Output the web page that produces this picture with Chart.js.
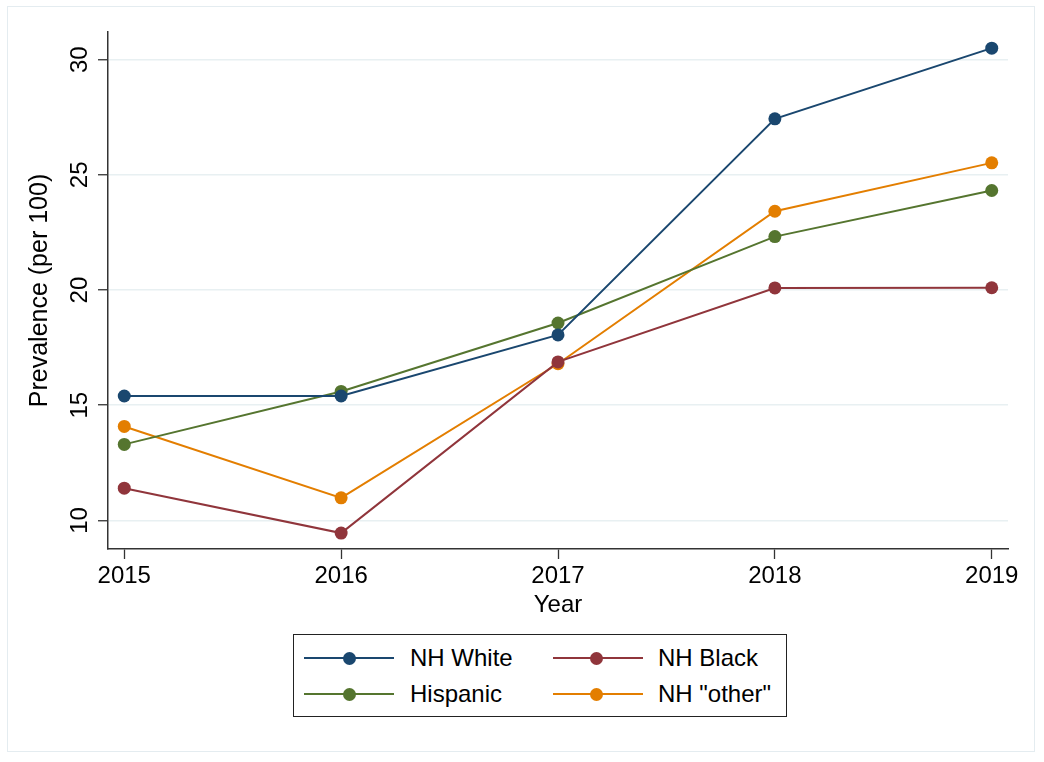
<!DOCTYPE html>
<html>
<head>
<meta charset="utf-8">
<script src="https://cdn.jsdelivr.net/npm/chart.js@4.4.1/dist/chart.umd.min.js"></script>
<style>
html,body{margin:0;padding:0;background:#fff;}
#wrap{position:relative;width:1044px;height:762px;overflow:hidden;}
#frame{position:absolute;left:7px;top:6px;width:1028px;height:746px;border:1px solid #e4ecf0;box-sizing:border-box;}
#c{position:absolute;left:0;top:0;}
#legend{position:absolute;left:293px;top:634px;width:494px;height:83px;border:1.5px solid #222;box-sizing:border-box;font-family:"Liberation Sans",Arial,Helvetica,sans-serif;font-size:24px;color:#000;background:#fff;}
.ln{position:absolute;height:2px;width:90px;}
.dot{position:absolute;width:13px;height:13px;border-radius:50%;}
.txt{position:absolute;white-space:nowrap;line-height:28px;}
</style>
</head>
<body>
<div id="wrap">
  <div id="frame"></div>
  <canvas id="c" width="1044" height="762"></canvas>
  <div id="legend"></div>
</div>
<script>
const years = [2015, 2016, 2017, 2018, 2019];
const yTicks = [10, 15, 20, 25, 30];
const seriesNames = ['NH White', 'NH Black', 'Hispanic', 'NH "other"'];
const nhWhite  = [15.4, 15.4, 18.05, 27.43, 30.5];
const nhBlack  = [11.4, 9.45, 16.88, 20.09, 20.1];
const hispanic = [13.3, 15.6, 18.57, 22.32, 24.32];
const nhOther  = [14.08, 10.98, 16.8, 23.42, 25.52];
const colors = ['#1a476f', '#90353b', '#55752f', '#e37e00'];

const seriesValues = [nhWhite, nhBlack, hispanic, nhOther];
const FONT = '"Liberation Sans", Arial, Helvetica, sans-serif';

const datasets = seriesNames.map((name, i) => ({
  label: name,
  data: years.map((y, j) => ({x: y, y: seriesValues[i][j]})),
  borderColor: colors[i],
  backgroundColor: colors[i],
  pointBackgroundColor: colors[i],
  pointBorderColor: colors[i],
  pointRadius: 6.5,
  pointBorderWidth: 0,
  borderWidth: 2,
  tension: 0,
  fill: false
}));

new Chart(document.getElementById('c'), {
  type: 'line',
  data: { datasets },
  options: {
    responsive: false,
    animation: false,
    devicePixelRatio: 1,
    layout: { padding: { left: 0, right: 36, top: 32, bottom: 142 } },
    plugins: { legend: { display: false }, tooltip: { enabled: false } },
    scales: {
      x: {
        type: 'linear',
        min: 2014.925,
        max: 2019.075,
        afterBuildTicks: s => { s.ticks = years.map(v => ({value: v})); },
        afterFit: s => { s.height = 71; },
        ticks: {
          color: '#000',
          font: { family: FONT, size: 24 },
          padding: 3,
          maxRotation: 0,
          callback: v => String(v)
        },
        grid: {
          display: true,
          drawOnChartArea: false,
          drawTicks: true,
          tickLength: 10,
          tickColor: '#333',
          tickWidth: 1.3
        },
        border: { display: true, color: '#333', width: 1.5 },
        title: {
          display: true,
          text: 'Year',
          color: '#000',
          font: { family: FONT, size: 24 },
          padding: { top: 0, bottom: 0 }
        }
      },
      y: {
        type: 'linear',
        min: 8.76,
        max: 31.2,
        afterBuildTicks: s => { s.ticks = yTicks.map(v => ({value: v})); },
        afterFit: s => { s.width = 108; },
        ticks: {
          color: '#000',
          font: { family: FONT, size: 24 },
          padding: 4,
          minRotation: 90,
          maxRotation: 90,
          crossAlign: 'center',
          callback: v => String(v)
        },
        grid: {
          display: true,
          drawOnChartArea: true,
          color: '#e8f0f2',
          lineWidth: 1.5,
          drawTicks: true,
          tickLength: 10,
          tickColor: '#333',
          tickWidth: 1.3
        },
        border: { display: true, color: '#333', width: 1.5 },
        title: {
          display: true,
          text: 'Prevalence (per 100)',
          color: '#000',
          font: { family: FONT, size: 25 },
          padding: { top: 25, bottom: 0 }
        }
      }
    }
  }
});

// HTML legend (line + marker + label), built from the series arrays
const legend = document.getElementById('legend');
const cols = [{line: 10, dot: 55, text: 116}, {line: 259, dot: 302, text: 364}];
const rows = [23, 59];
seriesNames.forEach((name, i) => {
  const c = cols[i % 2], r = rows[Math.floor(i / 2)];
  const ln = document.createElement('div');
  ln.className = 'ln';
  ln.style.left = c.line + 'px';
  ln.style.top = (r - 1) + 'px';
  ln.style.background = colors[i];
  const dot = document.createElement('div');
  dot.className = 'dot';
  dot.style.left = (c.dot - 6.5) + 'px';
  dot.style.top = (r - 6.5) + 'px';
  dot.style.background = colors[i];
  const t = document.createElement('div');
  t.className = 'txt';
  t.style.left = c.text + 'px';
  t.style.top = (r - 14) + 'px';
  t.textContent = name;
  legend.appendChild(ln); legend.appendChild(dot); legend.appendChild(t);
});
</script>
</body>
</html>
